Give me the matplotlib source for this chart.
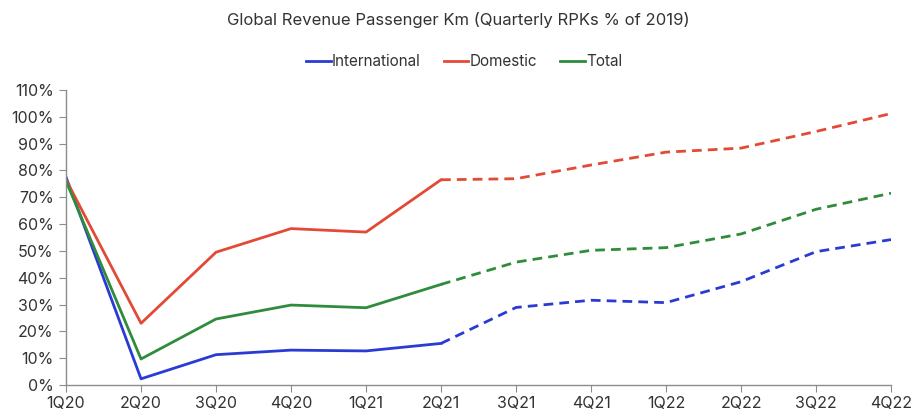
import matplotlib
matplotlib.use("Agg")
import matplotlib.pyplot as plt
from matplotlib.ticker import PercentFormatter

plt.rcParams['font.family'] = ['Inter', 'DejaVu Sans']

quarters = ["1Q20", "2Q20", "3Q20", "4Q20", "1Q21", "2Q21", "3Q21", "4Q21",
            "1Q22", "2Q22", "3Q22", "4Q22"]
international = [77.5, 2.3, 11.3, 13.0, 12.7, 15.5, 28.9, 31.6, 30.7, 38.5, 49.7, 54.2]
domestic = [76.5, 23.0, 49.5, 58.3, 57.0, 76.5, 76.9, 82.0, 86.8, 88.3, 94.5, 101.2]
total = [76.0, 9.7, 24.6, 29.8, 28.8, 37.5, 45.8, 50.2, 51.2, 56.3, 65.5, 71.5]
split_index = 5  # last actual quarter (2Q21); forecasts dashed after

series = [("International", international, "#2a3bd4"),
          ("Domestic", domestic, "#e24a35"),
          ("Total", total, "#2f8c3c")]

fig = plt.figure(figsize=(9.12, 4.13), dpi=100)
ax = fig.add_axes([0.0724, 0.0678, 0.9046, 0.7145])

x = list(range(len(quarters)))
for name, vals, col in series:
    ax.plot(x[:split_index + 1], vals[:split_index + 1], color=col, lw=2.0,
            label=name, solid_joinstyle='round')
    ax.plot(x[split_index:], vals[split_index:], color=col, lw=2.0,
            linestyle=(0, (3.5, 2.2)))

ax.set_xlim(0, len(quarters) - 1)
ax.set_ylim(0, 110)
ax.set_yticks(range(0, 111, 10))
ax.yaxis.set_major_formatter(PercentFormatter(decimals=0))
ax.set_xticks(x)
ax.set_xticklabels(quarters)

for s in ["top", "right"]:
    ax.spines[s].set_visible(False)
for s in ["left", "bottom"]:
    ax.spines[s].set_color("#8c8c8c")
    ax.spines[s].set_linewidth(1.0)
ax.tick_params(axis="both", colors="#8c8c8c", labelcolor="#333333",
               labelsize=11.5, length=5, direction="out")
ax.tick_params(axis="x", pad=3)
ax.tick_params(axis="y", pad=4)

fig.text(0.503, 0.952, "Global Revenue Passenger Km (Quarterly RPKs % of 2019)",
         ha="center", va="center", fontsize=12, color="#333333")
fig.legend(loc="center", bbox_to_anchor=(0.509, 0.85), ncol=3, frameon=False,
           fontsize=11, handlelength=1.6, handletextpad=0.1, columnspacing=1.5,
           labelcolor="#333333")

fig.savefig("out.png", dpi=100)
